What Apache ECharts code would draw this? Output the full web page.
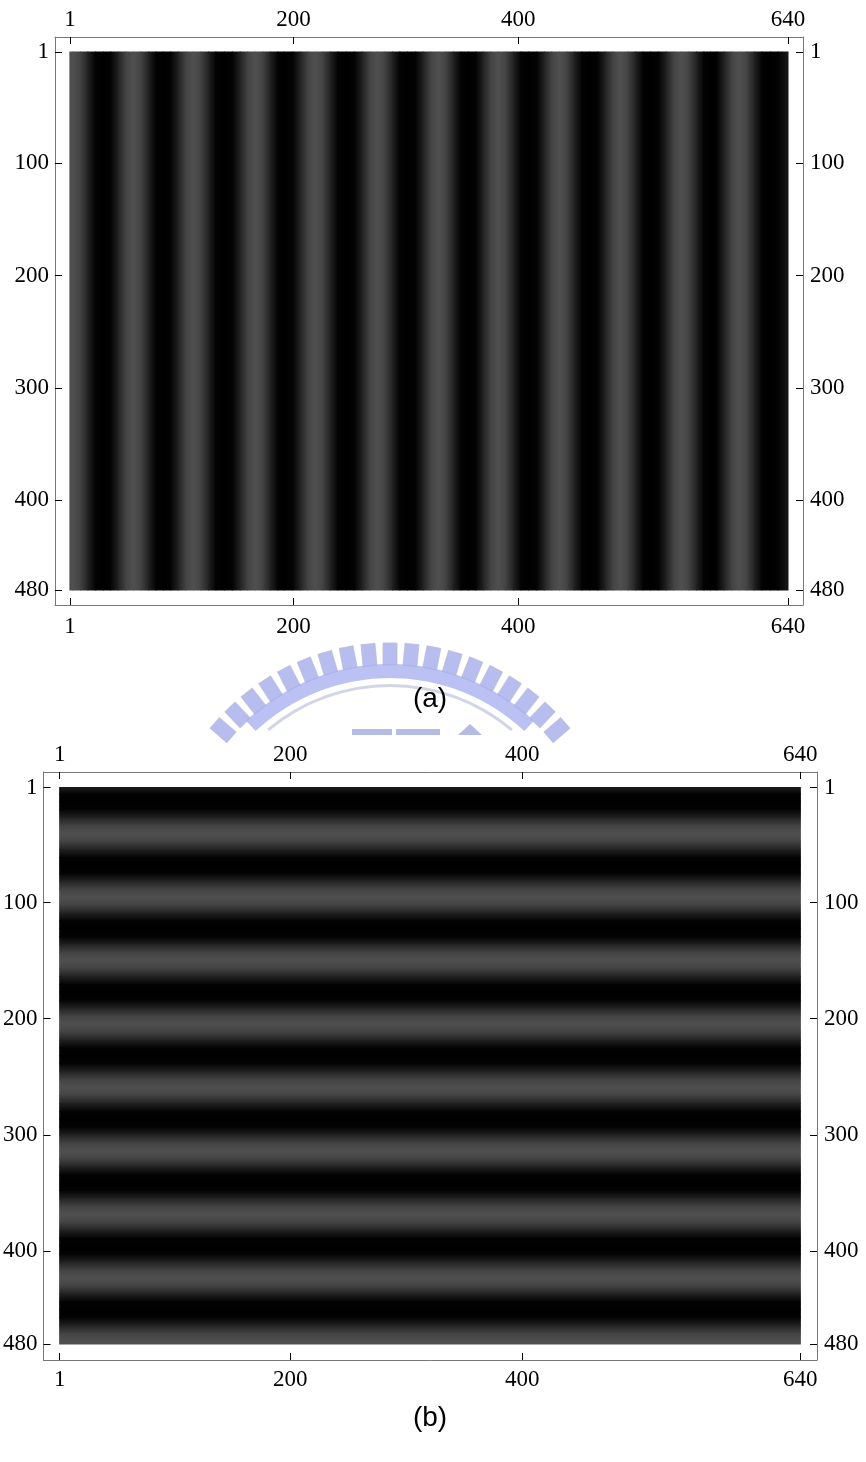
<!DOCTYPE html>
<html>
<head>
<meta charset="utf-8">
<script src="https://cdn.jsdelivr.net/npm/echarts@6/dist/echarts.min.js"></script>
<style>
html,body{margin:0;padding:0;background:#fff;}
#chart{width:866px;height:1462px;}
</style>
</head>
<body>
<div id="chart"></div>
<script>
// ---------- data ----------
const xTicks = [1, 200, 400, 640];
const yTicks = [1, 100, 200, 300, 400, 480];
const panelLabels = ['(a)', '(b)'];

// panel (a): vertical stripes — column position (pixel index) and grey level
const stripeA_x = [0.5, 3.2, 9.9, 16.6, 23.3, 30.4, 37.0, 43.7, 50.4, 57.1, 63.8, 70.5, 77.2, 83.8,
  90.4, 97.1, 103.8, 110.5, 117.2, 123.9, 130.6, 138.1, 145.4, 152.2, 158.9, 165.6, 172.3, 179.0,
  185.7, 191.3, 198.9, 205.6, 212.3, 219.0, 225.7, 232.4, 239.1, 246.6, 254.1, 260.8, 267.5, 274.2,
  280.9, 287.6, 294.3, 300.9, 308.4, 315.1, 321.8, 328.5, 335.2, 341.9, 348.6, 355.2, 361.8, 368.5,
  375.2, 381.9, 388.6, 395.3, 402.0, 408.6, 416.1, 422.8, 429.5, 436.2, 442.9, 449.6, 456.3, 462.9,
  470.4, 477.1, 483.8, 490.5, 497.2, 503.9, 510.6, 517.2, 524.7, 531.4, 538.1, 544.8, 551.5, 558.2,
  564.9, 570.6, 576.3, 583.0, 589.7, 596.4, 603.1, 609.8, 616.5, 624.0, 631.0, 640.5];
const stripeA_v = [76, 80, 67, 34, 3, 0, 3, 34, 67, 80, 67, 34, 3, 0,
  3, 34, 67, 80, 67, 34, 3, 0, 3, 34, 67, 80, 67, 34,
  3, 0, 3, 34, 67, 80, 67, 34, 3, 0, 3, 34, 67, 80,
  67, 34, 3, 0, 3, 34, 67, 80, 67, 34, 3, 0, 3, 34,
  67, 80, 67, 34, 3, 0, 3, 34, 67, 80, 67, 34, 3, 0,
  3, 34, 67, 80, 67, 34, 3, 0, 3, 34, 67, 80, 67, 34,
  3, 0, 3, 34, 67, 80, 67, 34, 3, 0, 3, 24];

// panel (b): horizontal stripes — row position and grey level
const stripeB_y = [0.5, 6.2, 12.8, 19.6, 26.6, 33.5, 40.3, 47.1, 54.0, 60.8, 67.4, 74.5, 81.3, 88.2,
  95.0, 101.8, 108.7, 115.5, 122.1, 129.1, 135.9, 142.8, 149.6, 156.4, 163.3, 170.1, 176.7, 183.8,
  190.6, 197.5, 204.3, 211.1, 218.0, 224.8, 231.4, 238.4, 245.2, 252.1, 258.9, 265.7, 272.6, 279.4,
  286.0, 293.1, 299.9, 306.8, 313.6, 320.4, 327.3, 334.1, 340.7, 347.7, 354.5, 361.4, 368.2, 375.0,
  381.9, 388.7, 395.3, 402.4, 409.2, 416.1, 422.9, 429.7, 436.6, 443.4, 449.9, 457.0, 463.8, 470.7,
  477.5, 480.5];
const stripeB_v = [30, 3, 0, 3, 34, 67, 80, 67, 34, 3, 0, 3, 34, 67,
  80, 67, 34, 3, 0, 3, 34, 67, 80, 67, 34, 3, 0, 3,
  34, 67, 80, 67, 34, 3, 0, 3, 34, 67, 80, 67, 34, 3,
  0, 3, 34, 67, 80, 67, 34, 3, 0, 3, 34, 67, 80, 67,
  34, 3, 0, 3, 34, 67, 80, 67, 34, 3, 0, 3, 34, 67,
  80, 78];

// ---------- chart ----------
const chart = echarts.init(document.getElementById('chart'), null, {renderer: 'canvas'});
const gray = v => 'rgb(' + v + ',' + v + ',' + v + ')';
const FRAME = '#777777';
const SERIF = '"Liberation Serif", "DejaVu Serif", serif';

function axisCommon(ticks, pos, margin, min, max, gridIndex, inverse) {
  return {
    type: 'value', gridIndex: gridIndex, position: pos, min: min, max: max, inverse: !!inverse,
    splitLine: {show: false},
    axisLine: {show: true, onZero: false, lineStyle: {color: FRAME, width: 1}},
    axisTick: {show: true, inside: true, length: 7, customValues: ticks, lineStyle: {color: '#000', width: 1}},
    axisLabel: {show: true, customValues: ticks, margin: margin, color: '#000', fontFamily: SERIF, fontSize: 23}
  };
}

const grids = [
  {left: 55, top: 37, width: 748, height: 568},
  {left: 42, top: 772, width: 775, height: 588}
];
const xr = [[-12.3, 653.4], [-13.0, 654.4]];
const yr = [[-12.4, 493.3], [-12.4, 493.8]];

const xAxes = [], yAxes = [];
[0, 1].forEach(g => {
  xAxes.push(axisCommon(xTicks, 'bottom', g === 0 ? 10 : 8, xr[g][0], xr[g][1], g));
  xAxes.push(axisCommon(xTicks, 'top', 6, xr[g][0], xr[g][1], g));
  yAxes.push(axisCommon(yTicks, 'left', 6, yr[g][0], yr[g][1], g, true));
  yAxes.push(axisCommon(yTicks, 'right', 7, yr[g][0], yr[g][1], g, true));
});

const segA = stripeA_x.slice(0, -1).map((x, i) => [x, stripeA_x[i + 1], stripeA_v[i], stripeA_v[i + 1]]);
const segB = stripeB_y.slice(0, -1).map((y, i) => [y, stripeB_y[i + 1], stripeB_v[i], stripeB_v[i + 1]]);
const lastA = segA.length - 1, lastB = segB.length - 1;

// watermark (faint logo between the panels)
const wm = [];
const cx = 390, cy = 875;
const WM = {opacity: 0.78};
for (let k = -9; k <= 9; k++) {
  const phi = (90 + k * 5.45) * Math.PI / 180;
  wm.push({type: 'rect', x: cx + 221 * Math.cos(phi), y: cy - 221 * Math.sin(phi),
    rotation: phi - Math.PI / 2, shape: {x: -7, y: -11, width: 14, height: 22},
    style: Object.assign({fill: '#a3abea', stroke: '#b8bcd4', lineWidth: 1}, WM), z: -1, silent: true});
}
wm.push({type: 'sector', shape: {cx: cx, cy: cy, r0: 197, r: 211, startAngle: -133 * Math.PI / 180, endAngle: -47 * Math.PI / 180, clockwise: true},
  style: Object.assign({fill: '#a8b0ee'}, WM), z: -1, silent: true});
wm.push({type: 'sector', shape: {cx: cx, cy: cy, r0: 188, r: 191, startAngle: -130 * Math.PI / 180, endAngle: -50 * Math.PI / 180, clockwise: true},
  style: Object.assign({fill: '#c4c9de'}, WM), z: -1, silent: true});
wm.push({type: 'rect', shape: {x: 352, y: 729, width: 40, height: 6}, style: Object.assign({fill: '#a0a8dc'}, WM), z: -1, silent: true});
wm.push({type: 'rect', shape: {x: 396, y: 729, width: 44, height: 6}, style: Object.assign({fill: '#a0a8dc'}, WM), z: -1, silent: true});
wm.push({type: 'polygon', shape: {points: [[458, 735], [470, 724], [482, 735]]}, style: Object.assign({fill: '#a0a8dc'}, WM), z: -1, silent: true});

const texts = [
  {type: 'text', x: 430, y: 699, style: {text: panelLabels[0], font: '28px "Liberation Sans", Arial, sans-serif', fill: '#000', textAlign: 'center', textVerticalAlign: 'middle'}, z: 5},
  {type: 'text', x: 430, y: 1418, style: {text: panelLabels[1], font: '28px "Liberation Sans", Arial, sans-serif', fill: '#000', textAlign: 'center', textVerticalAlign: 'middle'}, z: 5}
];

chart.setOption({
  animation: false,
  backgroundColor: '#fff',
  grid: grids,
  xAxis: xAxes,
  yAxis: yAxes,
  graphic: wm.concat(texts),
  series: [
    {
      type: 'custom', xAxisIndex: 0, yAxisIndex: 0, clip: false,
      data: segA, encode: {x: [0, 1]},
      renderItem: function (params, api) {
        const x0 = api.value(0), x1 = api.value(1);
        const p0 = api.coord([x0, 0.5]), p1 = api.coord([x1, 480.5]);
        const extra = params.dataIndex === lastA ? 0 : 0.8;
        return {type: 'rect',
          shape: {x: p0[0], y: Math.min(p0[1], p1[1]), width: p1[0] - p0[0] + extra, height: Math.abs(p1[1] - p0[1])},
          style: {fill: new echarts.graphic.LinearGradient(0, 0, 1, 0, [
            {offset: 0, color: gray(api.value(2))}, {offset: 1, color: gray(api.value(3))}])}};
      }
    },
    {
      type: 'custom', xAxisIndex: 2, yAxisIndex: 2, clip: false,
      data: segB, encode: {y: [0, 1]},
      renderItem: function (params, api) {
        const y0 = api.value(0), y1 = api.value(1);
        const p0 = api.coord([0.5, y0]), p1 = api.coord([640.5, y1]);
        const extra = params.dataIndex === lastB ? 0 : 0.8;
        return {type: 'rect',
          shape: {x: p0[0], y: p0[1], width: p1[0] - p0[0], height: p1[1] - p0[1] + extra},
          style: {fill: new echarts.graphic.LinearGradient(0, 0, 0, 1, [
            {offset: 0, color: gray(api.value(2))}, {offset: 1, color: gray(api.value(3))}])}};
      }
    }
  ]
});
</script>
</body>
</html>
